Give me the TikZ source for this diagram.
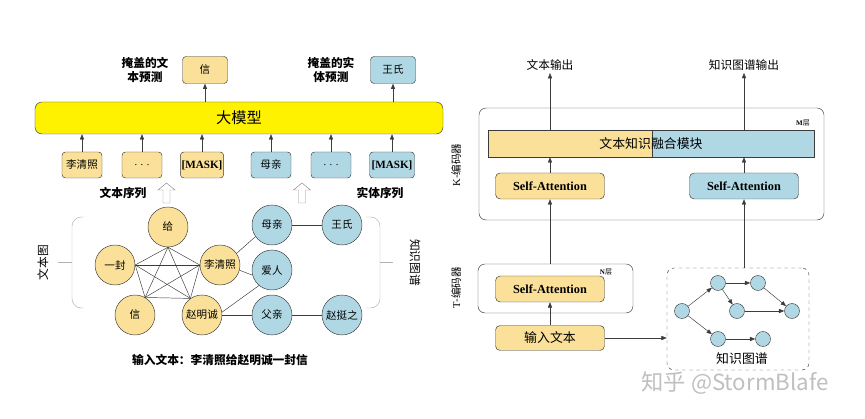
\documentclass[tikz,border=0pt]{standalone}
\usepackage{fontspec}
\setmainfont{Noto Sans CJK SC}
\newfontfamily\tnr{Liberation Serif}
\usetikzlibrary{arrows.meta}
\usetikzlibrary{positioning}

\definecolor{tokyel}{RGB}{250,224,152}
\definecolor{tokblu}{RGB}{176,216,228}
\definecolor{linegr}{RGB}{60,60,60}

\tikzset{
  ytok/.style={draw=linegr, fill=tokyel, rounded corners=3pt, minimum width=12mm, minimum height=7.8mm, inner sep=1pt, font=\fontsize{9}{10}\selectfont},
  btok/.style={ytok, fill=tokblu},
  ycirc/.style={circle, draw=linegr, fill=tokyel, minimum size=12mm, inner sep=0pt, font=\fontsize{9}{10}\selectfont},
  bcirc/.style={ycirc, fill=tokblu},
  kgdot/.style={circle, draw=linegr, fill=tokblu, minimum size=4.5mm, inner sep=0pt},
  attn/.style={draw=linegr, rounded corners=4pt, minimum width=32.7mm, minimum height=7.8mm, font=\tnr\bfseries\fontsize{10.5}{12}\selectfont},
  lbl/.style={font=\fontsize{10}{12}\selectfont, align=center, inner sep=2pt},
  arr/.style={-{Triangle[length=4.5pt,width=3.5pt]}, linegr},
  frame/.style={draw=linegr, rounded corners=6pt},
}

\begin{document}
\begin{tikzpicture}[x=0.3mm, y=0.3mm]
  \useasboundingbox (0,0) rectangle (865,419);

  % left: large model with token rows
  \node[draw=linegr, fill=yellow, rounded corners=6pt, minimum width=122.4mm, minimum height=9.6mm, font=\fontsize{13}{15}\selectfont] (llm) at (239,301) {大模型};
  \node[ytok, minimum width=13.5mm, minimum height=8.1mm] (pxin) at (205,349) {信};
  \node[btok, minimum width=13.5mm, minimum height=8.1mm] (pwang) at (393,349) {王氏};
  \node[lbl, font=\bfseries\fontsize{10}{12}\selectfont] (ltxt) at (145,349) {掩盖的文\\本预测};
  \node[lbl, font=\bfseries\fontsize{10}{12}\selectfont] (lent) at (331,349) {掩盖的实\\体预测};
  \draw[arr] (llm.north -| pxin) -- (pxin.south);
  \draw[arr] (llm.north -| pwang) -- (pwang.south);

  \node[ytok] (s1) at (82,254) {李清照};
  \node[ytok] (s2) at (142,254) {\tnr .\,\,.\,\,.};
  \node[ytok, minimum width=13mm, font=\tnr\bfseries\fontsize{9.5}{10}\selectfont] (s3) at (202,254) {[MASK]};
  \node[btok] (e1) at (271,254) {母亲};
  \node[btok] (e2) at (331,254) {\tnr .\,\,.\,\,.};
  \node[btok, minimum width=13.5mm, font=\tnr\bfseries\fontsize{9.5}{10}\selectfont] (e3) at (392,254) {[MASK]};
  \foreach \n in {s1,s2,s3,e1,e2,e3}
    \draw[arr] (\n.north) -- (\n.north |- llm.south);

  \node[lbl, font=\bfseries\fontsize{10}{12}\selectfont] (tseq) at (123,226) {文本序列};
  \node[lbl, font=\bfseries\fontsize{10}{12}\selectfont] (eseq) at (380,226) {实体序列};
  % hollow arrows
  \foreach \cx in {166.5,302}
    \draw[black!45, fill=white] ({\cx-3.5},216) -- ({\cx+3.5},216) -- ({\cx+3.5},229) -- ({\cx+8.5},229)
      -- (\cx,236) -- ({\cx-8.5},229) -- ({\cx-3.5},229) -- cycle;

  % text graph and knowledge graph
  \node[ycirc] (gei) at (168,192) {给};
  \node[ycirc] (yifeng) at (115,154) {一封};
  \node[ycirc] (lqz) at (220,154) {李清照};
  \node[ycirc] (xin) at (135,104) {信};
  \node[ycirc] (zmc) at (202,104) {赵明诚};
  \node[bcirc] (muqin) at (272,194) {母亲};
  \node[bcirc] (wang) at (342,194) {王氏};
  \node[bcirc] (airen) at (272,149) {爱人};
  \node[bcirc] (fuqin) at (272,104) {父亲};
  \node[bcirc] (zhao) at (342,104) {赵挺之};

  \coordinate (pY) at (yifeng.east);
  \coordinate (pG) at (gei.south);
  \coordinate (pL) at (lqz.west);
  \coordinate (pX) at (xin.60);
  \coordinate (pZ) at (zmc.125);
  \foreach \a/\b in {pY/pG,pY/pL,pY/pX,pY/pZ,pG/pL,pG/pX,pG/pZ,pL/pX,pL/pZ,pX/pZ}
    \draw[linegr] (\a) -- (\b);
  \draw[linegr] (lqz.35) -- (muqin.215);
  \draw[linegr] (lqz.-15) -- (airen.195);
  \draw[linegr] (zmc.8) -- (airen.230);
  \draw[linegr] (zmc.east) -- (fuqin.west);
  \draw[linegr] (muqin) -- (wang);
  \draw[linegr] (fuqin) -- (zhao);

  % brackets
  \draw[black!30, rounded corners=8pt] (84,202) -- (72,202) -- (72,111) -- (84,111);
  \draw[black!30] (58,156.5) -- (72,156.5);
  \draw[black!30, rounded corners=8pt] (366,202) -- (380,202) -- (380,111) -- (366,111);
  \draw[black!30] (380,156.5) -- (393,156.5);
  \node[lbl, rotate=90] (tgraph) at (43,156.5) {文本图};
  \node[lbl, rotate=-90] (kgraph) at (415,156.5) {知识图谱};

  \node[font=\bfseries\fontsize{10}{12}\selectfont] (cap) at (220,59) {输入文本：李清照给赵明诚一封信};

  % right: K-encoder
  \node[frame, minimum width=103.5mm, minimum height=33.6mm] (kenc) at (651.5,255) {};
  \node[font=\fontsize{6}{7}\selectfont] (mlay) at (803,296) {{\tnr\bfseries M}层};
  \node[draw=linegr, fill=tokyel, minimum width=49.2mm, minimum height=8.1mm, inner sep=0pt, anchor=east] (fusL) at (652,275.5) {};
  \node[draw=linegr, fill=tokblu, minimum width=48.6mm, minimum height=8.1mm, inner sep=0pt, anchor=west] (fusR) at (652,275.5) {};
  \node[font=\fontsize{11}{12}\selectfont] (fustxt) at (651,275.5) {文本知识融合模块};
  \node[attn, fill=tokyel] (saKL) at (550,233) {Self-Attention};
  \node[attn, fill=tokblu] (saKR) at (744,233) {Self-Attention};
  \node[lbl] (outT) at (550,354) {文本输出};
  \node[lbl] (outK) at (744,354) {知识图谱输出};
  \draw[arr] (fusL.north -| saKL) -- (outT.south);
  \draw[arr] (fusR.north -| saKR) -- (outK.south);
  \draw[arr] (saKL.north) -- (saKL.north |- fusL.south);
  \draw[arr] (saKR.north) -- (saKR.north |- fusR.south);
  \node[font=\fontsize{9}{10}\selectfont, rotate=90] (kencl) at (456,254) {{\tnr K}-编码器};

  % T-encoder
  \node[frame, minimum width=46.5mm, minimum height=14.7mm] (tenc) at (555.5,130.5) {};
  \node[font=\fontsize{6}{7}\selectfont] (nlay) at (606,147) {{\tnr\bfseries N}层};
  \node[attn, fill=tokyel] (saT) at (550,130) {Self-Attention};
  \node[attn, fill=tokyel, minimum height=7.5mm, font=\fontsize{11}{12}\selectfont] (inp) at (550,81) {输入文本};
  \draw[arr] (inp.north) -- (saT.south);
  \draw[arr] (tenc.north -| saKL) -- (saKL.south);
  \node[font=\fontsize{9}{10}\selectfont, rotate=90] (tencl) at (456,131) {{\tnr T}-编码器};

  % knowledge graph box
  \node[frame, dashed, minimum width=42.6mm, minimum height=30.6mm] (kgbox) at (738,100) {};
  \node[font=\fontsize{11}{12}\selectfont] (kglbl) at (742,60) {知识图谱};
  \draw[arr] (inp.east) -- (inp.east -| kgbox.west);
  \draw[arr] (kgbox.north -| saKR) -- (saKR.south);
  \node[kgdot] (ka) at (682,108) {};
  \node[kgdot] (kb) at (718,136) {};
  \node[kgdot] (kc) at (758,136) {};
  \node[kgdot] (kd) at (737,108) {};
  \node[kgdot] (ke) at (792,108) {};
  \node[kgdot] (kf) at (718,80) {};
  \node[kgdot] (kh) at (763,80) {};
  \foreach \a/\b in {ka/kb,kb/kc,kb/kd,kc/ke,kd/ke,ka/kf,kf/kh}
    \draw[arr] (\a) -- (\b);

  \node[text=black!25, font=\fontsize{19}{20}\selectfont] (wmark) at (735,36) {知乎 @StormBlafe};
\end{tikzpicture}
\end{document}
